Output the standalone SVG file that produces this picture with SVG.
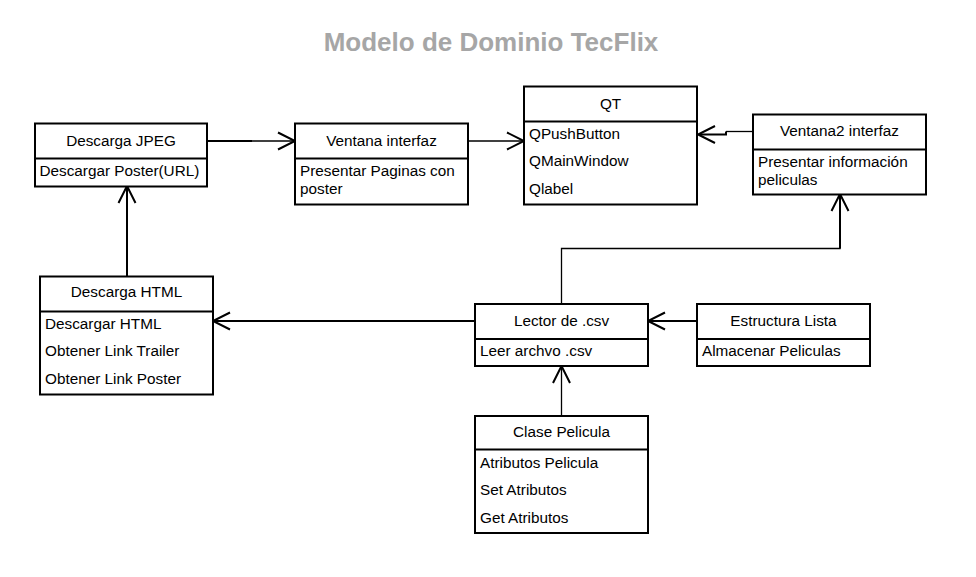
<svg xmlns="http://www.w3.org/2000/svg" width="976" height="577" viewBox="0 0 976 577">
<style>
.box{fill:#fff;stroke:#000;stroke-width:2}
.div{stroke:#000;stroke-width:2}
.t{font-family:"Liberation Sans",Arial,sans-serif;font-size:15.3px;fill:#000}
.c{text-anchor:middle}
.ln{fill:none;stroke:#000;stroke-width:2}
.ah{fill:none;stroke:#000;stroke-width:2}
.title{font-family:"Liberation Sans",Arial,sans-serif;font-size:26px;font-weight:bold;fill:#a6a6a6;text-anchor:middle}
</style>
<rect width="976" height="577" fill="#fff"/>
<text class="title" x="491" y="51">Modelo de Dominio TecFlix</text>
<g id="connectors">
  <!-- JPEG -> Ventana interfaz -->
  <path class="ln" d="M207 141 H252" stroke-width="2.5"/>
  <path class="ln" d="M252 141 H294" stroke-width="1.3" style="stroke-width:1.3"/>
  <path class="ah" d="M278 132.5 L295 141 L278 149.5"/>
  <!-- Ventana interfaz -> QT -->
  <path class="ln" d="M468 141 H522" style="stroke-width:1.3"/>
  <path class="ah" d="M507 132.5 L524 141 L507 149.5"/>
  <!-- Ventana2 -> QT -->
  <path class="ln" d="M753 131.5 H726" style="stroke-width:1.3"/>
  <path class="ln" d="M726 131.5 V134.5 H700"/>
  <path class="ah" d="M715 126 L698 134.5 L715 143"/>
  <!-- HTML -> JPEG -->
  <path class="ln" d="M127 276 V188"/>
  <path class="ah" d="M118.5 203 L127 186 L135.5 203"/>
  <!-- Lector -> HTML -->
  <path class="ln" d="M475 321 H215"/>
  <path class="ah" d="M230 312.5 L213 321 L230 329.5"/>
  <!-- Lector -> Ventana2 -->
  <path class="ln" d="M561.5 304 V248.5 H840 V196" style="stroke-width:1.3"/>
  <path class="ln" d="M840 248.5 V196"/>
  <path class="ah" d="M831.5 211 L840 194 L848.5 211"/>
  <!-- Estructura -> Lector -->
  <path class="ln" d="M697 321 H650"/>
  <path class="ah" d="M665 312.5 L648 321 L665 329.5"/>
  <!-- Clase -> Lector -->
  <path class="ln" d="M561.5 416 V368" style="stroke-width:1.3"/>
  <path class="ah" d="M553 383 L561.5 366 L570 383"/>
</g>
<g id="descarga-jpeg">
  <rect class="box" x="35" y="123.5" width="172" height="63"/>
  <line class="div" x1="35" y1="158.5" x2="207" y2="158.5"/>
  <text class="t c" x="121" y="146">Descarga JPEG</text>
  <text class="t" x="39.5" y="176">Descargar Poster(URL)</text>
</g>
<g id="ventana-interfaz">
  <rect class="box" x="295" y="123.5" width="173" height="81"/>
  <line class="div" x1="295" y1="158.5" x2="468" y2="158.5"/>
  <text class="t c" x="381.5" y="146">Ventana interfaz</text>
  <text class="t" x="300" y="175.5">Presentar Paginas con</text>
  <text class="t" x="300" y="194">poster</text>
</g>
<g id="qt">
  <rect class="box" x="524" y="86.5" width="173" height="118"/>
  <line class="div" x1="524" y1="121.5" x2="697" y2="121.5"/>
  <text class="t c" x="610.5" y="109">QT</text>
  <text class="t" x="529" y="138.5">QPushButton</text>
  <text class="t" x="529" y="166">QMainWindow</text>
  <text class="t" x="529" y="193.5">Qlabel</text>
</g>
<g id="ventana2-interfaz">
  <rect class="box" x="753" y="114.5" width="173" height="80"/>
  <line class="div" x1="753" y1="149.5" x2="926" y2="149.5"/>
  <text class="t c" x="839.5" y="135.5">Ventana2 interfaz</text>
  <text class="t" x="758" y="166.5">Presentar información</text>
  <text class="t" x="758" y="184.5">peliculas</text>
</g>
<g id="descarga-html">
  <rect class="box" x="40" y="276.5" width="173" height="118"/>
  <line class="div" x1="40" y1="311.5" x2="213" y2="311.5"/>
  <text class="t c" x="126.5" y="297">Descarga HTML</text>
  <text class="t" x="45" y="328.5">Descargar HTML</text>
  <text class="t" x="45" y="356">Obtener Link Trailer</text>
  <text class="t" x="45" y="383.5">Obtener Link Poster</text>
</g>
<g id="lector-csv">
  <rect class="box" x="475" y="304" width="173" height="62"/>
  <line class="div" x1="475" y1="339" x2="648" y2="339"/>
  <text class="t c" x="561.5" y="325.5">Lector de .csv</text>
  <text class="t" x="480" y="356">Leer archvo .csv</text>
</g>
<g id="estructura-lista">
  <rect class="box" x="697" y="304" width="173" height="62"/>
  <line class="div" x1="697" y1="339" x2="870" y2="339"/>
  <text class="t c" x="783.5" y="325.5">Estructura Lista</text>
  <text class="t" x="702" y="356">Almacenar Peliculas</text>
</g>
<g id="clase-pelicula">
  <rect class="box" x="475" y="416" width="173" height="117"/>
  <line class="div" x1="475" y1="449.5" x2="648" y2="449.5"/>
  <text class="t c" x="561.5" y="436.5">Clase Pelicula</text>
  <text class="t" x="480" y="467.5">Atributos Pelicula</text>
  <text class="t" x="480" y="495">Set Atributos</text>
  <text class="t" x="480" y="523">Get Atributos</text>
</g>
</svg>
